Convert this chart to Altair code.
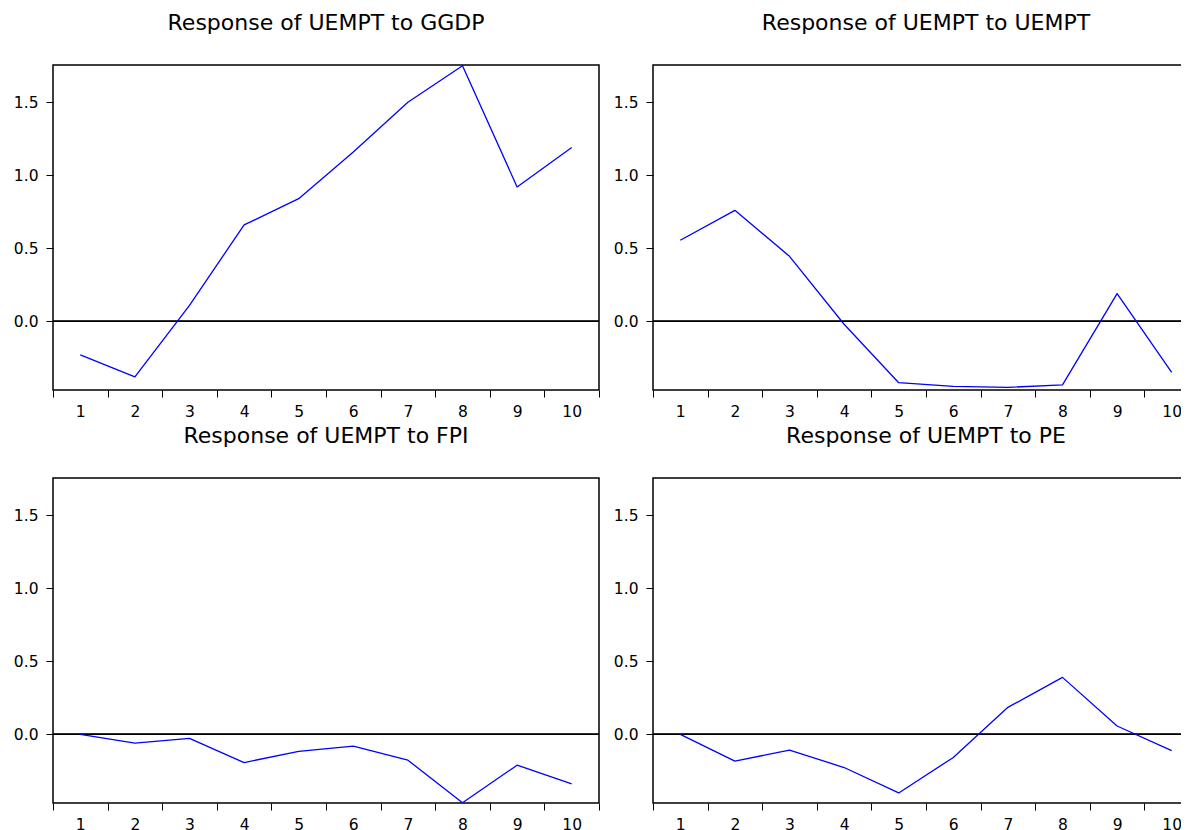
import altair as alt
import pandas as pd

periods = [str(p) for p in range(1, 11)]
titles = [
    "Response of UEMPT to GGDP",
    "Response of UEMPT to UEMPT",
    "Response of UEMPT to FPI",
    "Response of UEMPT to PE",
]
ggdp = [-0.23, -0.38, 0.11, 0.66, 0.84, 1.16, 1.50, 1.75, 0.92, 1.19]
uempt = [0.555, 0.76, 0.445, -0.02, -0.42, -0.445, -0.452, -0.435, 0.19, -0.35]
fpi = [0.0, -0.06, -0.027, -0.193, -0.117, -0.08, -0.177, -0.468, -0.211, -0.339]
pe = [0.0, -0.183, -0.108, -0.227, -0.401, -0.158, 0.185, 0.39, 0.057, -0.112]
y_ticks = [0.0, 0.5, 1.0, 1.5]
y_domain = [-0.47, 1.755]

FONT = "DejaVu Sans"


def panel(title, values):
    df = pd.DataFrame({"period": periods, "value": values})
    x = alt.X(
        "period:O",
        sort=periods,
        scale=alt.Scale(type="band", paddingInner=0, paddingOuter=0),
        axis=alt.Axis(
            title=None,
            labelAngle=0,
            tickBand="extent",
            domain=False,
            tickSize=7,
            labelPadding=7,
        ),
    )
    y = alt.Y(
        "value:Q",
        scale=alt.Scale(domain=y_domain, nice=False, zero=False),
        axis=alt.Axis(
            title=None,
            values=y_ticks,
            format=".1f",
            grid=False,
            domain=False,
            tickSize=7,
            labelPadding=8,
        ),
    )
    zero = alt.Chart(df).mark_rule(color="black", strokeWidth=1).encode(y=alt.datum(0))
    line = alt.Chart(df).mark_line(
        color="#0000ff", strokeWidth=1.3, strokeJoin="round"
    ).encode(x=x, y=y)
    return alt.layer(zero, line).properties(
        width=546,
        height=325,
        title=alt.TitleParams(
            title,
            font=FONT,
            fontSize=22,
            fontWeight="normal",
            color="black",
            baseline="alphabetic",
            offset=13,
            anchor="middle",
        ),
    )


row1 = alt.hconcat(panel(titles[0], ggdp), panel(titles[1], uempt), spacing=11)
row2 = alt.hconcat(panel(titles[2], fpi), panel(titles[3], pe), spacing=11)
chart = (
    alt.vconcat(row1, row2, spacing=3)
    .properties(
        padding={"left": 4, "top": 3, "right": -20, "bottom": -3},
        background="white",
    )
    .configure_view(stroke="black", strokeWidth=1.5)
    .configure_axis(
        labelFont=FONT,
        labelFontSize=15.5,
        labelColor="black",
        tickColor="black",
        tickWidth=1,
    )
)

chart.save("out.html", embed_options={"renderer": "svg", "actions": False})
